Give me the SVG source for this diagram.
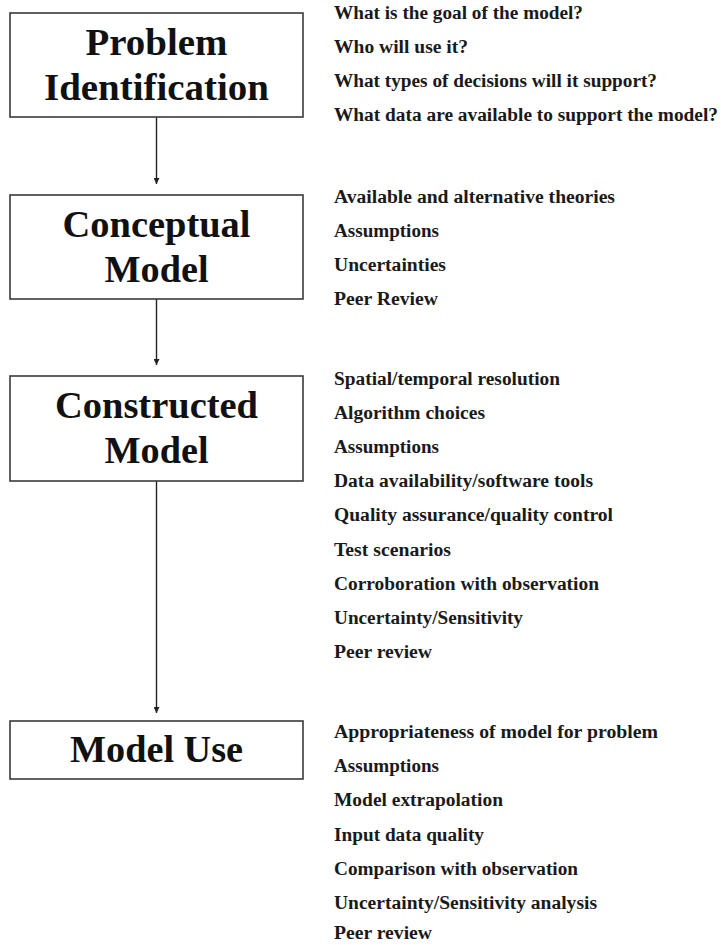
<svg xmlns="http://www.w3.org/2000/svg" width="721" height="945" viewBox="0 0 721 945">
<defs>
<style>
.box{fill:#fff;stroke:#3a3a3a;stroke-width:1.6}
.title{font-family:"Liberation Serif","Times New Roman",serif;font-weight:bold;font-size:37px;fill:#111;text-anchor:middle}
.item{font-family:"Liberation Serif","Times New Roman",serif;font-weight:bold;font-size:18px;fill:#1a1a1a}
.conn{stroke:#222;stroke-width:1.4;fill:none;marker-end:url(#arr)}
</style>
<marker id="arr" viewBox="0 0 10 10" refX="10" refY="5" markerWidth="6" markerHeight="6" markerUnits="userSpaceOnUse" orient="auto">
<path d="M0,0 L10,5 L0,10 z" fill="#222"/>
</marker>
</defs>
<rect width="721" height="945" fill="#fff"/>
<g id="connectors">
<line class="conn" x1="156.5" y1="117" x2="156.5" y2="184"/>
<line class="conn" x1="156.5" y1="299" x2="156.5" y2="365"/>
<line class="conn" x1="156.5" y1="481" x2="156.5" y2="713"/>
</g>
<g id="node-problem">
<rect class="box" x="10" y="13" width="293" height="104"/>
<text class="title" x="156.5" y="55" textLength="142" lengthAdjust="spacingAndGlyphs">Problem</text>
<text class="title" x="156.5" y="100" textLength="225" lengthAdjust="spacingAndGlyphs">Identification</text>
</g>
<g id="node-conceptual">
<rect class="box" x="10" y="195" width="293" height="104"/>
<text class="title" x="156.5" y="237" textLength="188" lengthAdjust="spacingAndGlyphs">Conceptual</text>
<text class="title" x="156.5" y="282" textLength="104" lengthAdjust="spacingAndGlyphs">Model</text>
</g>
<g id="node-constructed">
<rect class="box" x="10" y="376" width="293" height="105"/>
<text class="title" x="156.5" y="418" textLength="203" lengthAdjust="spacingAndGlyphs">Constructed</text>
<text class="title" x="156.5" y="463" textLength="104" lengthAdjust="spacingAndGlyphs">Model</text>
</g>
<g id="node-use">
<rect class="box" x="10" y="721" width="293" height="58"/>
<text class="title" x="156.5" y="762" textLength="173" lengthAdjust="spacingAndGlyphs">Model Use</text>
</g>
<g id="notes-problem">
<text class="item" x="334" y="19" textLength="249" lengthAdjust="spacingAndGlyphs">What is the goal of the model?</text>
<text class="item" x="334" y="53" textLength="134" lengthAdjust="spacingAndGlyphs">Who will use it?</text>
<text class="item" x="334" y="87" textLength="323" lengthAdjust="spacingAndGlyphs">What types of decisions will it support?</text>
<text class="item" x="334" y="121" textLength="384" lengthAdjust="spacingAndGlyphs">What data are available to support the model?</text>
</g>
<g id="notes-conceptual">
<text class="item" x="334" y="203" textLength="281" lengthAdjust="spacingAndGlyphs">Available and alternative theories</text>
<text class="item" x="334" y="237" textLength="105" lengthAdjust="spacingAndGlyphs">Assumptions</text>
<text class="item" x="334" y="271" textLength="112" lengthAdjust="spacingAndGlyphs">Uncertainties</text>
<text class="item" x="334" y="305" textLength="104" lengthAdjust="spacingAndGlyphs">Peer Review</text>
</g>
<g id="notes-constructed">
<text class="item" x="334" y="385" textLength="226" lengthAdjust="spacingAndGlyphs">Spatial/temporal resolution</text>
<text class="item" x="334" y="419" textLength="151" lengthAdjust="spacingAndGlyphs">Algorithm choices</text>
<text class="item" x="334" y="453" textLength="105" lengthAdjust="spacingAndGlyphs">Assumptions</text>
<text class="item" x="334" y="487" textLength="259" lengthAdjust="spacingAndGlyphs">Data availability/software tools</text>
<text class="item" x="334" y="521" textLength="279" lengthAdjust="spacingAndGlyphs">Quality assurance/quality control</text>
<text class="item" x="334" y="556" textLength="117" lengthAdjust="spacingAndGlyphs">Test scenarios</text>
<text class="item" x="334" y="590" textLength="265" lengthAdjust="spacingAndGlyphs">Corroboration with observation</text>
<text class="item" x="334" y="624" textLength="189" lengthAdjust="spacingAndGlyphs">Uncertainty/Sensitivity</text>
<text class="item" x="334" y="658" textLength="98" lengthAdjust="spacingAndGlyphs">Peer review</text>
</g>
<g id="notes-use">
<text class="item" x="334" y="738" textLength="324" lengthAdjust="spacingAndGlyphs">Appropriateness of model for problem</text>
<text class="item" x="334" y="772" textLength="105" lengthAdjust="spacingAndGlyphs">Assumptions</text>
<text class="item" x="334" y="806" textLength="169" lengthAdjust="spacingAndGlyphs">Model extrapolation</text>
<text class="item" x="334" y="841" textLength="150" lengthAdjust="spacingAndGlyphs">Input data quality</text>
<text class="item" x="334" y="875" textLength="244" lengthAdjust="spacingAndGlyphs">Comparison with observation</text>
<text class="item" x="334" y="909" textLength="263" lengthAdjust="spacingAndGlyphs">Uncertainty/Sensitivity analysis</text>
<text class="item" x="334" y="939" textLength="98" lengthAdjust="spacingAndGlyphs">Peer review</text>
</g>
</svg>
